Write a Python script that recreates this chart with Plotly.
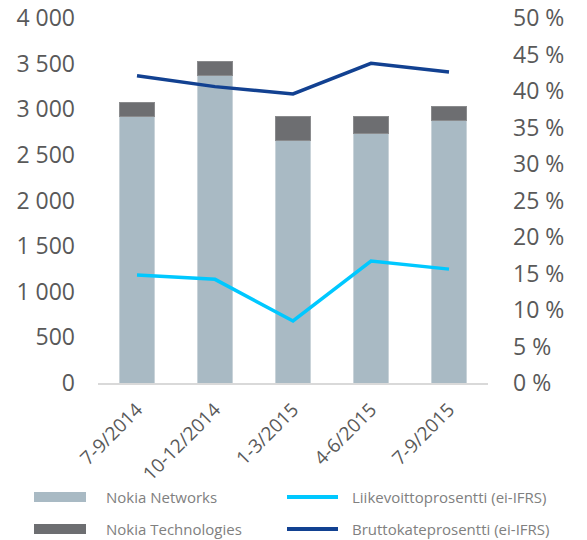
import plotly.graph_objects as go

categories = ["7-9/2014", "10-12/2014", "1-3/2015", "4-6/2015", "7-9/2015"]
networks = [2926, 3368, 2659, 2729, 2882]
technologies = [150, 153, 263, 193, 150]
operating_margin = [14.8, 14.2, 8.5, 16.7, 15.6]
gross_margin = [42.1, 40.6, 39.6, 43.8, 42.6]

names = ["Nokia Networks", "Nokia Technologies",
         "Liikevoittoprosentti (ei-IFRS)", "Bruttokateprosentti (ei-IFRS)"]
colors = ["#a9bac4", "#6d6e71", "#00c8ff", "#124191"]

FONT = "Open Sans"
# the page body has an 8px margin, so the figure is drawn 8px in from the top-left
OFF = 8
W, H = 587 - OFF, 540 - OFF
L, T = 98 - OFF, 18 - OFF
R = W - (488 - OFF)
B = H - (383 - OFF)
PW, PH = W - L - R, H - T - B

def px(x):
    # page pixel -> paper coordinate
    return (x - OFF - L) / PW

def py(y):
    return (H - B - (y - OFF)) / PH

fig = go.Figure()
fig.add_trace(go.Bar(x=categories, y=networks, name=names[0],
                     marker=dict(color=colors[0], line=dict(color="#c9d3d9", width=1)),
                     width=0.44, showlegend=False))
fig.add_trace(go.Bar(x=categories, y=technologies, name=names[1],
                     marker=dict(color=colors[1], line=dict(color="#8a8b8d", width=1)),
                     width=0.44, showlegend=False))
fig.add_trace(go.Scatter(x=categories, y=operating_margin, name=names[2], yaxis="y2",
                         mode="lines", line=dict(color=colors[2], width=3.5),
                         showlegend=False))
fig.add_trace(go.Scatter(x=categories, y=gross_margin, name=names[3], yaxis="y2",
                         mode="lines", line=dict(color=colors[3], width=3.5),
                         showlegend=False))

# manual legend (wide swatches like the original)
shapes = []
annotations = []
legend_pos = [(34, 86, 497, "bar"), (34, 86, 529, "bar"),
              (287, 338, 497, "line"), (287, 338, 529, "line")]
text_x = [104, 104, 350, 350]
for i, (x0, x1, yc, kind) in enumerate(legend_pos):
    if kind == "bar":
        shapes.append(dict(type="rect", xref="paper", yref="paper",
                           x0=px(x0), x1=px(x1), y0=py(yc + 5), y1=py(yc - 5),
                           fillcolor=colors[i], line=dict(width=0)))
    else:
        shapes.append(dict(type="line", xref="paper", yref="paper",
                           x0=px(x0), x1=px(x1), y0=py(yc), y1=py(yc),
                           line=dict(color=colors[i], width=4)))
    annotations.append(dict(text=names[i], xref="paper", yref="paper",
                            x=px(text_x[i]), y=py(yc), xanchor="left", yanchor="middle",
                            showarrow=False, font=dict(family=FONT, size=15, color="#808080")))

fig.update_layout(
    width=W, height=H,
    margin=dict(l=L, r=R, t=T, b=B, autoexpand=False),
    paper_bgcolor="white", plot_bgcolor="white",
    barmode="stack", bargap=0.56,
    separators=", ",
    showlegend=False,
    font=dict(family=FONT, color="#595959"),
    xaxis=dict(showline=True, linecolor="#d9d9d9", linewidth=2, ticks="",
               tickangle=-45, tickfont=dict(size=19, color="#595959"),
               ticklabelstandoff=6, showgrid=False, automargin=False),
    yaxis=dict(range=[0, 4000], dtick=500, tickformat=",d", showgrid=False,
               zeroline=False, showline=False, ticks="", automargin=False,
               ticklabeloverflow="allow",
               ticklabelstandoff=22, tickfont=dict(size=23, color="#595959")),
    yaxis2=dict(range=[0, 50], dtick=5, ticksuffix=" %", overlaying="y", side="right",
                showgrid=False, zeroline=False, showline=False, ticks="", automargin=False,
                ticklabeloverflow="allow",
                ticklabelstandoff=24, tickfont=dict(size=23, color="#595959")),
    shapes=shapes,
    annotations=annotations,
)

fig.write_html("out.html")
